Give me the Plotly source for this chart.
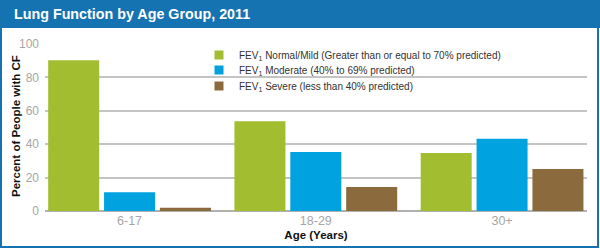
import plotly.graph_objects as go

categories = ["6-17", "18-29", "30+"]
series_names = [
    "FEV<sub>1</sub> Normal/Mild (Greater than or equal to 70% predicted)",
    "FEV<sub>1</sub> Moderate (40% to 69% predicted)",
    "FEV<sub>1</sub> Severe (less than 40% predicted)",
]
normal_mild = [90.2, 53.7, 34.7]
moderate = [11.3, 35.4, 43.2]
severe = [2.0, 14.3, 25.1]
colors = ["#a3bd31", "#00a3e0", "#8b6a3e"]
y_ticks = [0, 20, 40, 60, 80, 100]

W, H = 600, 250
L, R, T, B = 45, 13, 44, 39
pw, ph = W - L - R, H - T - B

def px(x):
    return (x - L) / pw

def py(y):
    return (H - B - y) / ph

legend_rows = [55, 70, 86]
legend_keys = ["legend", "legend2", "legend3"]

fig = go.Figure()
for name, vals, c, lk in zip(series_names, [normal_mild, moderate, severe], colors, legend_keys):
    fig.add_trace(go.Bar(x=list(range(len(categories))), y=vals, name=name,
                         marker=dict(color=c, line=dict(width=0)), showlegend=False))
    # legend proxy (no data) with a small square key
    fig.add_trace(go.Scatter(x=[None], y=[None], mode="markers", name=name, legend=lk,
                             marker=dict(symbol="square", size=9, color=c), showlegend=True))

blue = "#1673b1"
legend_common = dict(xanchor="left", yanchor="middle", bgcolor="rgba(0,0,0,0)",
                     font=dict(size=10, color="#333333", family="Arial"), itemwidth=30)
layout_legends = {}
for lk, row in zip(legend_keys, legend_rows):
    layout_legends[lk] = dict(x=px(199), y=py(row), **legend_common)

fig.update_layout(
    width=W, height=H,
    margin=dict(l=L, r=R, t=T, b=B),
    paper_bgcolor="white", plot_bgcolor="white",
    barmode="group", bargap=0.1, bargroupgap=0.087,
    font=dict(family="Arial", color="#333333"),
    showlegend=True,
    xaxis=dict(tickmode="array", tickvals=list(range(len(categories))), ticktext=categories,
               range=[-0.454, 2.456], showgrid=False, showline=False, zeroline=False,
               tickfont=dict(size=12.5, color="#a6a6a6"), ticks="", automargin=False,
               title=dict(text="<b>Age (Years)</b>", font=dict(size=11.5, color="#111111"), standoff=4)),
    yaxis=dict(range=[0, 100], tickvals=y_ticks, showgrid=True, gridcolor="#c4c4c4", gridwidth=2,
               zeroline=True, zerolinecolor="#b0b0b0", zerolinewidth=2, showline=False,
               tickfont=dict(size=12, color="#a6a6a6"), ticks="", ticklabelstandoff=5, automargin=False),
    shapes=[
        dict(type="rect", xref="paper", yref="paper", x0=px(0), x1=px(600), y0=py(28), y1=py(0),
             fillcolor=blue, line=dict(width=0), layer="below"),
        dict(type="rect", xref="paper", yref="paper", x0=px(1), x1=px(598), y0=py(247), y1=py(1),
             fillcolor="rgba(0,0,0,0)", line=dict(color=blue, width=2)),
    ],
    annotations=[
        dict(text="<b>Lung Function by Age Group, 2011</b>", xref="paper", yref="paper",
             x=px(12), y=py(14), xanchor="left", yanchor="middle", showarrow=False,
             font=dict(size=14.3, color="white", family="Arial")),
        dict(text="<b>Percent of People with CF</b>", xref="paper", yref="paper",
             x=px(16), y=py(126), xanchor="center", yanchor="middle", showarrow=False,
             textangle=-90, font=dict(size=11.5, color="#111111", family="Arial")),
    ],
    **layout_legends,
)

fig.write_html("out.html", config={"displayModeBar": False},
               post_script="document.body.style.margin='0';document.body.style.overflow='hidden';")
